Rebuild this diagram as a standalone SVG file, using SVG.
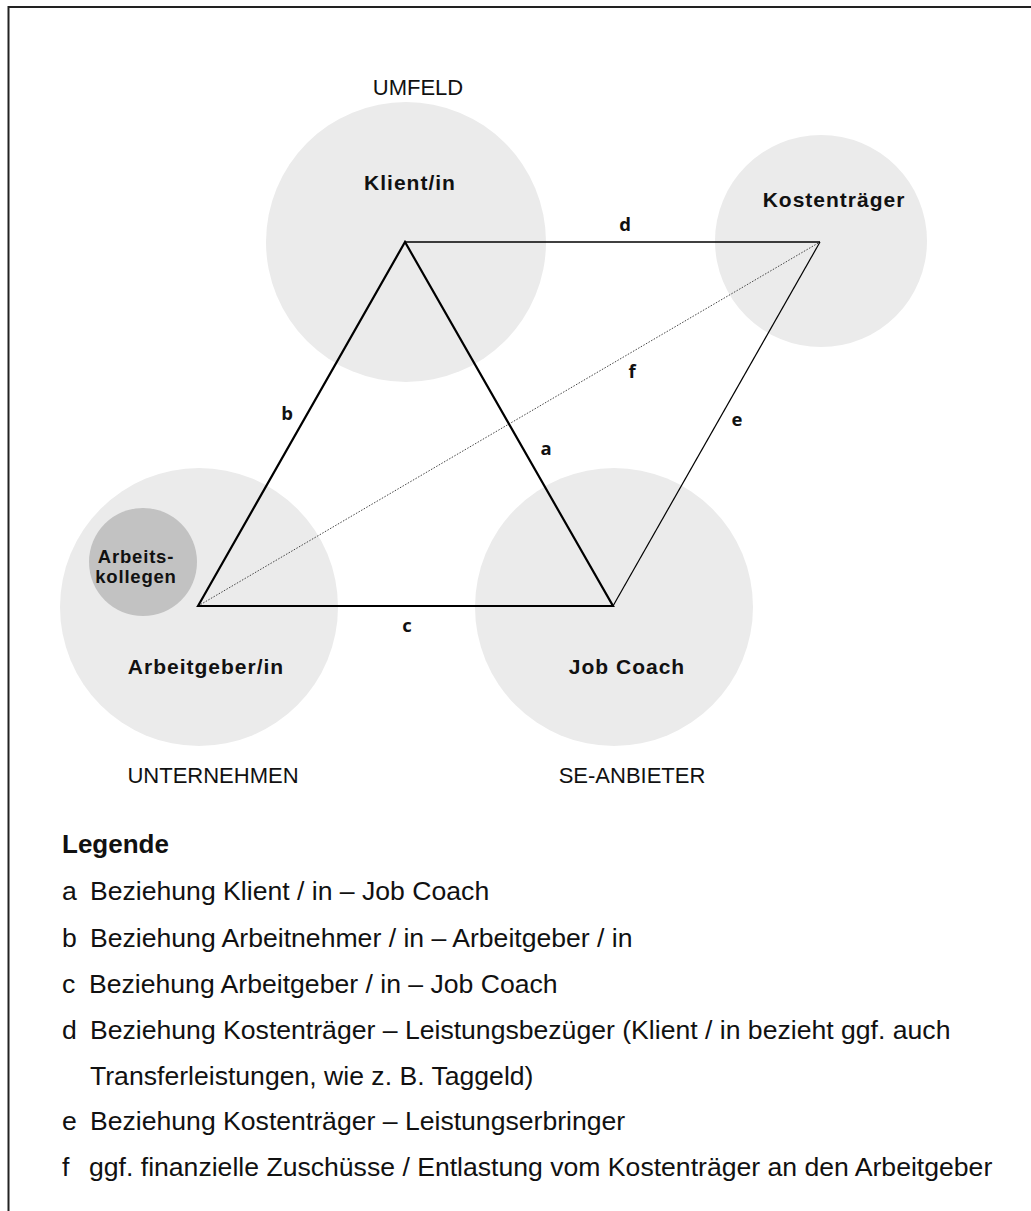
<svg xmlns="http://www.w3.org/2000/svg" width="1031" height="1211" viewBox="0 0 1031 1211">
  <style>
    .bg { fill: #ebebeb; }
    .sub { fill: #c2c2c2; }
    .node { font-family: "Liberation Sans", Arial, sans-serif; font-weight: bold; font-size: 21px; letter-spacing: 1px; fill: #111; text-anchor: middle; }
    .small { font-size: 18.5px; letter-spacing: 0.8px; }
    .area { font-family: "Liberation Sans", Arial, sans-serif; font-size: 22px; fill: #111; text-anchor: middle; }
    .lbl { font-family: "Open Sans", "Liberation Sans", sans-serif; font-weight: bold; font-size: 18.5px; fill: #111; text-anchor: middle; }
    .leg { font-family: "Liberation Sans", Arial, sans-serif; font-size: 26.6px; fill: #111; }
    .legh { font-family: "Liberation Sans", Arial, sans-serif; font-size: 26px; font-weight: bold; fill: #111; }
    .thick { stroke: #000; stroke-width: 2.2; fill: none; }
    .mid { stroke: #000; stroke-width: 1.6; fill: none; }
    .thin { stroke: #000; stroke-width: 1.2; fill: none; }
    .dot { stroke: #444; stroke-width: 1; stroke-dasharray: 1.5 1.5; fill: none; }
  </style>
  <rect x="0" y="0" width="1031" height="1211" fill="#fff"/>
  <path d="M8.5 1211 V7 H1031" fill="none" stroke="#222" stroke-width="2"/>

  <g id="klient">
    <circle class="bg" cx="406" cy="242" r="140"/>
    <text class="area" x="418" y="95">UMFELD</text>
    <text class="node" x="410" y="190">Klient/in</text>
  </g>
  <g id="kostentraeger">
    <circle class="bg" cx="821" cy="241" r="106"/>
    <text class="node" x="834" y="207">Kostenträger</text>
  </g>
  <g id="arbeitgeber">
    <circle class="bg" cx="199" cy="607" r="139"/>
    <text class="node" x="206" y="674">Arbeitgeber/in</text>
    <text class="area" x="213" y="783">UNTERNEHMEN</text>
  </g>
  <g id="arbeitskollegen">
    <circle class="sub" cx="143" cy="562" r="54"/>
    <text class="node small" x="136" y="563">Arbeits-</text>
    <text class="node small" x="136" y="583">kollegen</text>
  </g>
  <g id="jobcoach">
    <circle class="bg" cx="614" cy="607" r="139"/>
    <text class="node" x="627" y="674">Job Coach</text>
    <text class="area" x="632" y="783">SE-ANBIETER</text>
  </g>

  <g id="connectors">
    <line class="dot" x1="198" y1="606" x2="820" y2="242"/>
    <line class="mid" x1="405" y1="242" x2="820" y2="242"/>
    <line class="thin" x1="820" y1="242" x2="613" y2="606"/>
    <path class="thick" d="M198 606 L405 242 L613 606 Z" stroke-linejoin="miter"/>
    <text class="lbl" x="625" y="231">d</text>
    <text class="lbl" x="632" y="378">f</text>
    <text class="lbl" x="287" y="420">b</text>
    <text class="lbl" x="737" y="426">e</text>
    <text class="lbl" x="546" y="455">a</text>
    <text class="lbl" x="407" y="632">c</text>
  </g>

  <g id="legende">
    <text class="legh" x="62" y="853">Legende</text>
    <text class="leg" x="62" y="900">a</text>
    <text class="leg" x="90" y="900">Beziehung Klient / in – Job Coach</text>
    <text class="leg" x="62" y="946.5">b</text>
    <text class="leg" x="90" y="946.5">Beziehung Arbeitnehmer / in – Arbeitgeber / in</text>
    <text class="leg" x="62" y="993">c</text>
    <text class="leg" x="89" y="993">Beziehung Arbeitgeber / in – Job Coach</text>
    <text class="leg" x="62" y="1039">d</text>
    <text class="leg" x="90" y="1039">Beziehung Kostenträger – Leistungsbezüger (Klient / in bezieht ggf. auch</text>
    <text class="leg" x="90" y="1084.5">Transferleistungen, wie z. B. Taggeld)</text>
    <text class="leg" x="62" y="1130">e</text>
    <text class="leg" x="90" y="1130">Beziehung Kostenträger – Leistungserbringer</text>
    <text class="leg" x="62" y="1175.5">f</text>
    <text class="leg" x="89" y="1175.5">ggf. finanzielle Zuschüsse / Entlastung vom Kostenträger an den Arbeitgeber</text>
  </g>
</svg>
